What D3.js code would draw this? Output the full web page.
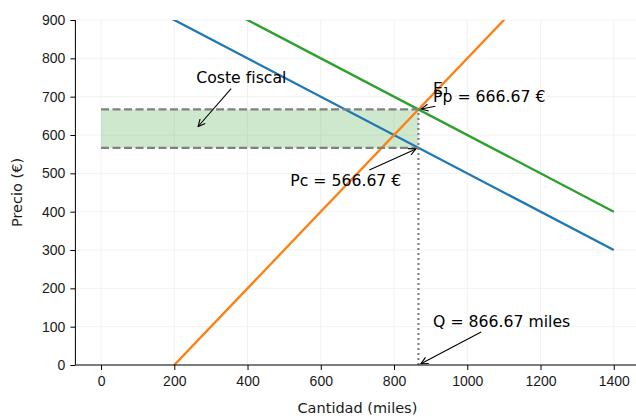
<!DOCTYPE html>
<html lang="es">
<head>
<meta charset="utf-8">
<script src="https://cdnjs.cloudflare.com/ajax/libs/d3/7.8.5/d3.min.js"></script>
<style>
  body { margin: 0; background: #fff; }
  svg { font-family: "DejaVu Sans", sans-serif; display: block; }
  .axis path, .axis line { stroke: #000; stroke-width: 1; }
  .axis text { font-size: 14px; fill: #1a1a1a; }
</style>
</head>
<body>
<div id="chart"></div>
<script>
// data
const quantities = [0, 1400];
const demand = [1000, 300];        // blue
const demandTax = [1100, 400];     // green
const supply = [-200, 1200];       // orange
const xTicks = [0, 200, 400, 600, 800, 1000, 1200, 1400];
const yTicks = [0, 100, 200, 300, 400, 500, 600, 700, 800, 900];
const qEq = 866.67;
const pProd = 666.67;
const pCons = 566.67;

const W = 636, H = 419;
const margin = {top: 20, right: -3.4, bottom: 54, left: 75.4};
const iw = W - margin.left - margin.right;
const ih = H - margin.top - margin.bottom;

const svg = d3.select("#chart").append("svg")
  .attr("width", W).attr("height", H);

const x = d3.scaleLinear().domain([-70, 1470]).range([0, iw]);
const y = d3.scaleLinear().domain([0, 900]).range([ih, 0]);

const g = svg.append("g").attr("transform", `translate(${margin.left},${margin.top})`);

svg.append("defs").append("clipPath").attr("id", "clip")
  .append("rect").attr("width", iw).attr("height", ih);

svg.select("defs").append("marker")
  .attr("id", "arrow").attr("markerUnits", "userSpaceOnUse")
  .attr("viewBox", "-8 -4 9 8").attr("refX", 0).attr("refY", 0)
  .attr("markerWidth", 9).attr("markerHeight", 8).attr("orient", "auto")
  .append("path").attr("d", "M-7,-3.5L0,0L-7,3.5")
  .attr("fill", "none").attr("stroke", "#000").attr("stroke-width", 1.1);

// grid
g.append("g").selectAll("line").data(xTicks).join("line")
  .attr("x1", d => x(d)).attr("x2", d => x(d)).attr("y1", 0).attr("y2", ih)
  .attr("stroke", "#f2f2f2").attr("stroke-width", 1);
g.append("g").selectAll("line").data(yTicks).join("line")
  .attr("y1", d => y(d)).attr("y2", d => y(d)).attr("x1", 0).attr("x2", iw)
  .attr("stroke", "#f2f2f2").attr("stroke-width", 1);

const plot = g.append("g").attr("clip-path", "url(#clip)");

// tax wedge
plot.append("rect")
  .attr("x", x(0)).attr("width", x(qEq) - x(0))
  .attr("y", y(pProd)).attr("height", y(pCons) - y(pProd))
  .attr("fill", "#2ca02c").attr("fill-opacity", 0.24);

const line = d3.line().x(d => x(d[0])).y(d => y(d[1]));
const series = [
  {vals: demand, color: "#1f77b4"},
  {vals: supply, color: "#ff7f0e"},
  {vals: demandTax, color: "#2ca02c"}
];
series.forEach(s => {
  plot.append("path")
    .datum(quantities.map((q, i) => [q, s.vals[i]]))
    .attr("d", line).attr("fill", "none")
    .attr("stroke", s.color).attr("stroke-width", 2.3);
});

[pProd, pCons].forEach(p => {
  plot.append("line")
    .attr("x1", x(0)).attr("x2", x(qEq)).attr("y1", y(p)).attr("y2", y(p))
    .attr("stroke", "#808080").attr("stroke-width", 2.2)
    .attr("stroke-dasharray", "8,3.5");
});
plot.append("line")
  .attr("x1", x(qEq)).attr("x2", x(qEq)).attr("y1", y(0)).attr("y2", y(pProd))
  .attr("stroke", "#808080").attr("stroke-width", 2.2)
  .attr("stroke-dasharray", "2,3");

// axes
const xAxis = g.append("g").attr("class", "axis")
  .attr("transform", `translate(0,${ih})`)
  .call(d3.axisBottom(x).tickValues(xTicks).tickFormat(d3.format("d"))
    .tickSize(5).tickPadding(6).tickSizeOuter(0));
const yAxis = g.append("g").attr("class", "axis")
  .call(d3.axisLeft(y).tickValues(yTicks).tickFormat(d3.format("d"))
    .tickSize(5).tickPadding(5).tickSizeOuter(0));
xAxis.select(".domain").attr("d", `M0,0H${iw}`);
yAxis.select(".domain").attr("d", `M0,${ih}V0`);

svg.append("text").attr("x", margin.left + iw / 2).attr("y", 413)
  .attr("text-anchor", "middle").attr("font-size", 14.5).attr("fill", "#1a1a1a")
  .text("Cantidad (miles)");
svg.append("text").attr("transform", `translate(22,${margin.top + ih / 2}) rotate(-90)`)
  .attr("text-anchor", "middle").attr("font-size", 14.5).attr("fill", "#1a1a1a")
  .text("Precio (€)");

// annotations
function annotate(label, tx, ty, px, py) {
  const t = g.append("text").attr("x", x(tx)).attr("y", y(ty))
    .attr("font-size", 15.7).attr("fill", "#000").text(label);
  if (px === undefined) return;
  const b = t.node().getBBox();
  const cx = b.x + b.width / 2, cy = b.y + b.height / 2;
  const ex = x(px), ey = y(py);
  const dx = ex - cx, dy = ey - cy;
  let s = Infinity;
  if (dx !== 0) s = Math.min(s, (b.width / 2) / Math.abs(dx));
  if (dy !== 0) s = Math.min(s, (b.height / 2) / Math.abs(dy));
  const len = Math.hypot(dx, dy);
  const ux = dx / len, uy = dy / len;
  const sx = cx + dx * s + ux * 2.8, sy = cy + dy * s + uy * 2.8;
  g.append("line").attr("x1", sx).attr("y1", sy)
    .attr("x2", ex - ux * 2.8).attr("y2", ey - uy * 2.8)
    .attr("stroke", "#000").attr("stroke-width", 1.1)
    .attr("marker-end", "url(#arrow)");
}

annotate("Coste fiscal", qEq * 0.3, pProd + 70, qEq * 0.3, (pProd + pCons) / 2);
annotate("E\u2081", qEq + 40, pProd + 40);
annotate("Pp = 666.67 €", qEq + 40, pProd + 20, qEq, pProd);
annotate("Pc = 566.67 €", qEq - 350, pCons - 100, qEq, pCons);
annotate("Q = 866.67 miles", qEq + 40, 100, qEq, 0);
</script>
</body>
</html>
